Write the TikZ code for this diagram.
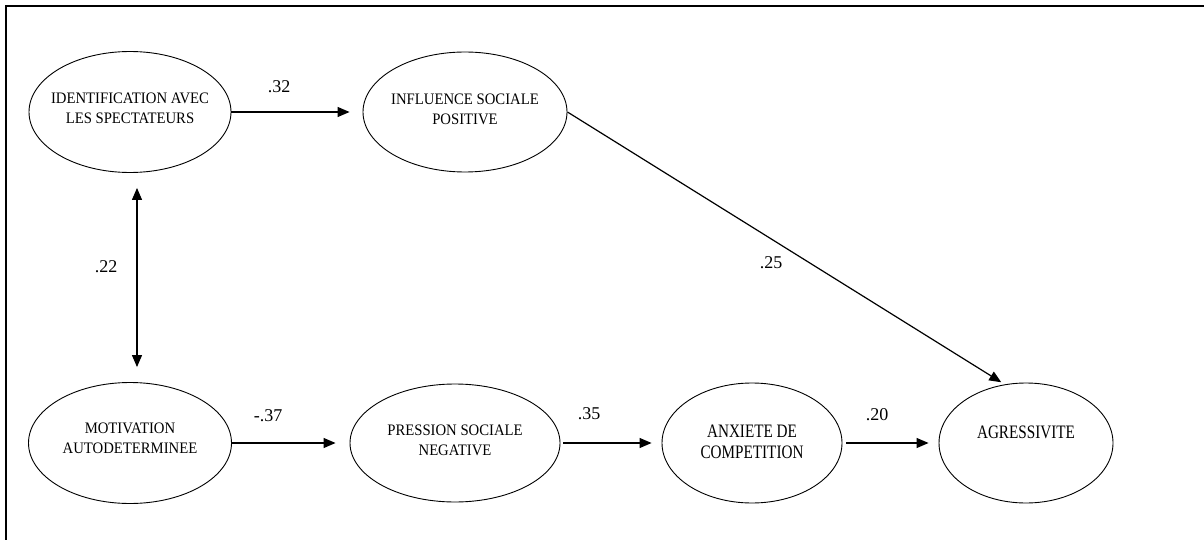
\documentclass[tikz,border=0pt]{standalone}
\usepackage{fontspec}
\setmainfont{Liberation Serif}
\newfontfamily\narrowfont{Liberation Serif}[FakeStretch=0.8]
\newfontfamily\condfont{Liberation Serif}[FakeStretch=0.92]
\usetikzlibrary{arrows.meta,shapes.geometric}

\tikzset{
  oval/.style={draw, ellipse, line width=0.9pt, inner sep=0pt},
  lien/.style={-{Triangle[length=12pt,width=10pt]}, line width=1.2pt},
  lienbi/.style={{Triangle[length=12pt,width=10pt]}-{Triangle[length=12pt,width=10pt]}, line width=1.2pt},
  coef/.style={inner sep=0pt, font=\fontsize{18}{18}\selectfont},
  intitule/.style={align=center, inner sep=0pt, font=\condfont\fontsize{16}{20}\selectfont},
  grand/.style={align=center, inner sep=0pt, font=\narrowfont\fontsize{19}{21}\selectfont},
}

\begin{document}
\begin{tikzpicture}[x=1pt, y=-1pt]
\useasboundingbox (0,0) rectangle (1204,540);
\draw[line width=2.4pt] (6,540) -- (6,6) -- (1204,6);

% variables latentes
\node[oval, minimum width=202pt, minimum height=121pt] (ident) at (130,112) {};
\node[oval, minimum width=204pt, minimum height=120pt] (influ) at (465,112) {};
\node[oval, minimum width=203pt, minimum height=121pt] (motiv) at (130,443) {};
\node[oval, minimum width=210pt, minimum height=118pt] (press) at (455,443) {};
\node[oval, minimum width=180pt, minimum height=120pt] (anx) at (752,443) {};
\node[oval, minimum width=174pt, minimum height=120pt] (agr) at (1026,443) {};

\node[intitule] (ident-t) at (130,108) {IDENTIFICATION AVEC\\LES SPECTATEURS};
\node[intitule] (influ-t) at (465,109) {INFLUENCE SOCIALE\\POSITIVE};
\node[intitule] (motiv-t) at (130,438) {MOTIVATION\\AUTODETERMINEE};
\node[intitule] (press-t) at (455,440) {PRESSION SOCIALE\\NEGATIVE};
\node[grand] (anx-t) at (752,442) {ANXIETE DE\\COMPETITION};
\node[grand] (agr-t) at (1026,432) {AGRESSIVITE};

% liens
\draw[lien, shorten >=13pt] (ident) -- (influ);
\draw[lien, shorten >=14pt] (motiv) -- (press);
\draw[lien, shorten <=3pt, shorten >=10pt] (press) -- (anx);
\draw[lien, shorten <=4pt, shorten >=10pt] (anx) -- (agr);
\draw[lien, shorten >=4pt] (influ.east) -- (agr.110);
\draw[lienbi, shorten <=15pt, shorten >=15pt] ([xshift=7pt]ident.south) -- ([xshift=7pt]motiv.north);

% coefficients
\node[coef] (c-ident-influ) at (279,87) {.32};
\node[coef] (c-ident-motiv) at (106,267) {.22};
\node[coef] (c-motiv-press) at (268,416) {-.37};
\node[coef] (c-press-anx) at (589,414) {.35};
\node[coef] (c-anx-agr) at (877,415) {.20};
\node[coef] (c-influ-agr) at (771,263) {.25};
\end{tikzpicture}
\end{document}
